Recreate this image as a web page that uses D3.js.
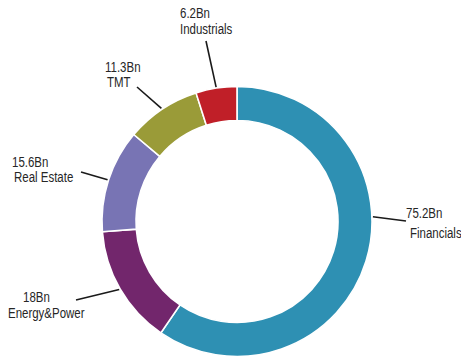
<!DOCTYPE html>
<html>
<head>
<meta charset="utf-8">
<script src="https://cdn.jsdelivr.net/npm/d3@7/dist/d3.min.js"></script>
<style>
  html, body { margin: 0; padding: 0; background: #fff; }
  svg { display: block; }
  text { font-family: "Liberation Sans", Arial, sans-serif; font-size: 14px; fill: #262626; }
</style>
</head>
<body>
<svg id="chart" width="461" height="357"></svg>
<script>
// Deal value by sector, in billions, clockwise from 12 o'clock
const sectors = ["Financials", "Energy&Power", "Real Estate", "TMT", "Industrials"];
const values = [75.2, 18, 15.6, 11.3, 6.2];
const valueLabels = ["75.2Bn", "18Bn", "15.6Bn", "11.3Bn", "6.2Bn"];
const colors = ["#2e90b3", "#72266c", "#7874b4", "#9a9b38", "#c01f28"];

// Label placement: value line, sector line, leader end point, optional leader angle (deg)
const labelLayout = [
  { x1: 406, y1: 218, x2: 410, y2: 238, lx: 406, ly: 221, angle: 88 },
  { x1: 23,  y1: 302, x2: 8,   y2: 318, lx: 76,  ly: 300, angle: null },
  { x1: 12,  y1: 167, x2: 14,  y2: 182, lx: 81,  ly: 172, angle: null },
  { x1: 105, y1: 72,  x2: 107, y2: 87,  lx: 137, ly: 87,  angle: null },
  { x1: 180, y1: 18,  x2: 180, y2: 34,  lx: 206, ly: 41,  angle: null }
];

const cx = 237, cy = 221.5, outerR = 135, innerR = 101;
const narrow = 0.82; // condensed label face
const svg = d3.select("#chart");
const g = svg.append("g").attr("transform", `translate(${cx},${cy})`);

const data = sectors.map((s, i) => ({ sector: s, value: values[i], label: valueLabels[i], color: colors[i], layout: labelLayout[i] }));

const pie = d3.pie().value(d => d.value).sort(null);
const arc = d3.arc().innerRadius(innerR).outerRadius(outerR);
const arcs = pie(data);

g.selectAll("path.slice")
  .data(arcs)
  .join("path")
  .attr("class", "slice")
  .attr("d", arc)
  .attr("fill", d => d.data.color)
  .attr("stroke", "#fff")
  .attr("stroke-width", 1.6);

function label(x, y, str) {
  svg.append("text")
    .attr("transform", `translate(${x},${y}) scale(${narrow},1)`)
    .text(str);
}

// Leader lines from the outer edge to each label
arcs.forEach(a => {
  const L = a.data.layout;
  const ang = L.angle != null ? L.angle * Math.PI / 180 : (a.startAngle + a.endAngle) / 2;
  const sx = cx + Math.sin(ang) * (outerR + 1);
  const sy = cy - Math.cos(ang) * (outerR + 1);
  svg.append("line")
    .attr("x1", sx).attr("y1", sy)
    .attr("x2", L.lx).attr("y2", L.ly)
    .attr("stroke", "#1a1a1a")
    .attr("stroke-width", 1.6);
  label(L.x1, L.y1, a.data.label);
  label(L.x2, L.y2, a.data.sector);
});
</script>
</body>
</html>
